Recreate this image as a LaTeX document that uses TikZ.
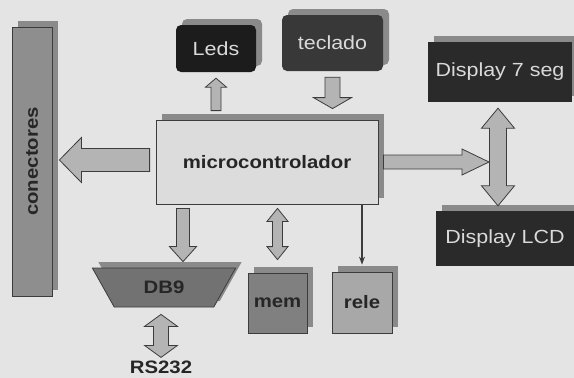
\documentclass[tikz,border=0pt]{standalone}
\usepackage{fontspec}
\setmainfont{Liberation Sans}[FakeStretch=1.13]
\usetikzlibrary{calc, positioning}
\usetikzlibrary{shapes.geometric}
\usetikzlibrary{shadows}
\usetikzlibrary{arrows.meta}

\definecolor{fundo}{HTML}{E4E4E4}
\definecolor{borda}{HTML}{3C3C3C}
\definecolor{corsombra}{HTML}{8A8A8A}
\definecolor{corcon}{HTML}{8E8E8E}
\definecolor{corleds}{HTML}{1C1C1C}
\definecolor{corteclado}{HTML}{383838}
\definecolor{cordisp}{HTML}{2A2A2A}
\definecolor{cormcu}{HTML}{DCDCDC}
\definecolor{corseta}{HTML}{B4B4B4}
\definecolor{cordb}{HTML}{727272}
\definecolor{cormem}{HTML}{808080}
\definecolor{correle}{HTML}{A8A8A8}
\definecolor{texto}{HTML}{262626}
\definecolor{claro}{HTML}{DADADA}

% seta cheia: inicio, fim, meia haste, meia ponta, comprimento da ponta
\newcommand{\setaum}[5]{%
  \coordinate (sb) at ($(#2)!#5!(#1)$);
  \draw[seta] ($(#1)!#3!90:(#2)$) -- ($(sb)!#3!90:(#2)$) -- ($(sb)!#4!90:(#2)$) -- (#2)
    -- ($(sb)!#4!-90:(#2)$) -- ($(sb)!#3!-90:(#2)$) -- ($(#1)!#3!-90:(#2)$) -- cycle;}
% seta dupla
\newcommand{\setadupla}[5]{%
  \coordinate (sa) at ($(#1)!#5!(#2)$);
  \coordinate (sb) at ($(#2)!#5!(#1)$);
  \draw[seta] (#1) -- ($(sa)!#4!90:(#2)$) -- ($(sa)!#3!90:(#2)$) -- ($(sb)!#3!90:(#2)$)
    -- ($(sb)!#4!90:(#2)$) -- (#2) -- ($(sb)!#4!-90:(#2)$) -- ($(sb)!#3!-90:(#2)$)
    -- ($(sa)!#3!-90:(#2)$) -- ($(sa)!#4!-90:(#2)$) -- cycle;}

\begin{document}
\begin{tikzpicture}[x=1pt, y=-1pt,
    sombra/.style={drop shadow={shadow xshift=6pt, shadow yshift=6pt, fill=corsombra, opacity=1}},
    caixa/.style={sombra, draw=borda, line width=0.8pt, inner sep=0pt, text=texto,
      font=\bfseries\fontsize{18}{20}\selectfont},
    escura/.style={sombra, fill=#1, inner sep=0pt, text=claro, font=\fontsize{19}{22}\selectfont},
    seta/.style={draw=borda, fill=corseta, line width=0.8pt, line join=miter}]
      \fill[fundo] (0,0) rectangle (574,378);
      \useasboundingbox (0,0) rectangle (574,378);

      \node[caixa, fill=corcon, minimum width=40pt, minimum height=269pt] (con) at (32,161.5) {\rotatebox{90}{conectores}};
      \node[caixa, fill=cormcu, minimum width=222pt, minimum height=84pt] (mcu) at (267,162) {microcontrolador};
      \node[escura=corleds, rounded corners=5pt, minimum width=80pt, minimum height=47pt] (leds) at (216,48.5) {Leds};
      \node[escura=corteclado, rounded corners=5pt, minimum width=101pt, minimum height=56pt] (teclado) at (332.5,43) {teclado};
      \node[escura=cordisp, minimum width=144pt, minimum height=60pt] (seg) at (500,72) {Display 7 seg};
      \node[escura=cordisp, minimum width=138pt, minimum height=55pt] (lcd) at (505,238.5) {Display LCD};
      \node[caixa, fill=cordb, trapezium, trapezium angle=55, shape border rotate=180, trapezium stretches=true,
        minimum width=144pt, minimum height=39pt] (db) at (164,287.5) {DB9};
      \node[caixa, fill=cormem, minimum width=59pt, minimum height=60pt] (mem) at (277.5,303) {mem};
      \node[caixa, fill=correle, minimum width=60pt, minimum height=61pt] (rele) at (362,302.5) {rele};
      \node[inner sep=0pt, text=texto, font=\bfseries\fontsize{18}{20}\selectfont] (rs) at (161,367) {RS232};

      \coordinate (l1) at ($(mcu.north -| leds)+(0,-9)$);
      \coordinate (l2) at ($(leds.south)+(0,6)$);
      \setaum{l1}{l2}{5pt}{10.5pt}{9pt}
      \coordinate (t1) at ($(teclado.south)+(0,6)$);
      \coordinate (t2) at ($(mcu.north -| teclado)+(0,-11)$);
      \setaum{t1}{t2}{7.5pt}{19pt}{11pt}
      \coordinate (c1) at ($(mcu.west)+(-6,-2)$);
      \coordinate (c2) at ($(con.east |- c1)+(7,0)$);
      \setaum{c1}{c2}{11.5pt}{22.5pt}{22pt}
      \coordinate (v1) at ($(seg.south)+(-2,6)$);
      \coordinate (v2) at ($(lcd.north -| v1)+(0,-5)$);
      \coordinate (d1) at ($(mcu.east)+(5,0)$);
      \coordinate (d2) at ($(d1 -| v1)+(-9,0)$);
      \setaum{d1}{d2}{7pt}{13pt}{27pt}
      \setadupla{v1}{v2}{8.5pt}{16.5pt}{20pt}
      \coordinate (b1) at ($(mcu.south)+(-84,4)$);
      \coordinate (b2) at ($(db.north -| b1)+(0,-6)$);
      \setaum{b1}{b2}{6.5pt}{13.5pt}{15pt}
      \coordinate (m1) at ($(mcu.south -| mem)+(0,4)$);
      \coordinate (m2) at ($(mem.north)+(0,-13)$);
      \setadupla{m1}{m2}{5pt}{10.5pt}{13pt}
      \draw[borda, line width=1.1pt, -{Stealth[length=8pt, width=6pt]}, shorten >=7pt] (mcu.south -| rele) -- (rele.north);
      \coordinate (r1) at ($(db.south)+(-3,7)$);
      \coordinate (r2) at ($(rs.north)+(0,-3)$);
      \setadupla{r1}{r2}{7.5pt}{16.5pt}{12pt}
    \end{tikzpicture}
\end{document}
